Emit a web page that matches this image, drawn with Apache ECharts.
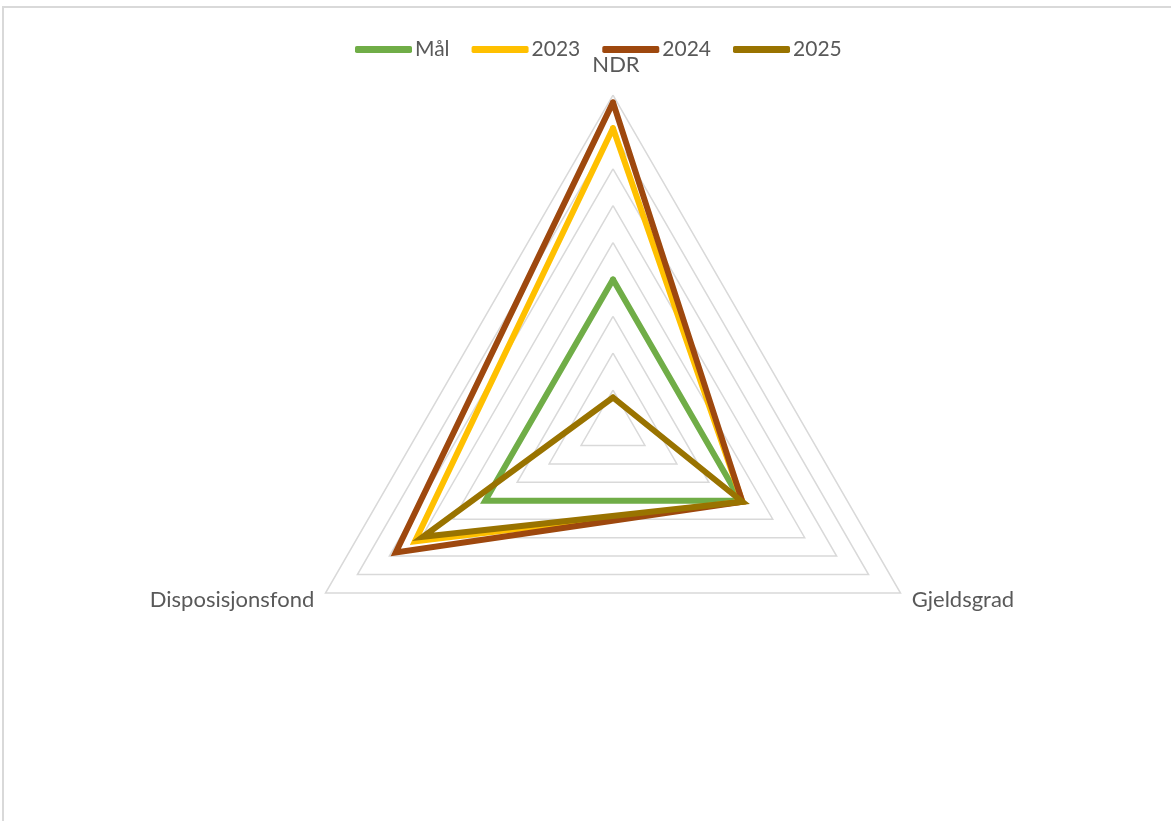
<!DOCTYPE html>
<html>
<head>
<meta charset="utf-8">
<script src="https://cdn.jsdelivr.net/npm/echarts@6/dist/echarts.min.js"></script>
<style>
  html, body { margin: 0; padding: 0; background: #fff; }
  #frame { position: absolute; left: 2px; top: 6px; width: 1169px; height: 815px;
           border-top: 2px solid #d9d9d9; border-left: 2px solid #d9d9d9; box-sizing: border-box; }
  #chart { position: absolute; left: 0; top: 0; width: 1171px; height: 821px; }
</style>
</head>
<body>
<div id="frame"></div>
<div id="chart"></div>
<script>
// Radar axes (ECharts lays them out counter-clockwise from the top)
const indicators = ['NDR', 'Disposisjonsfond', 'Gjeldsgrad'];
const axisMax = 9;

// Series values, one per axis in the order above
const seriesNames = ['Mål', '2023', '2024', '2025'];
const valuesMaal = [4.0, 4.0, 4.0];
const values2023 = [8.1, 6.2, 4.05];
const values2024 = [8.8, 6.8, 4.05];
const values2025 = [0.8, 5.95, 4.05];
const seriesValues = [valuesMaal, values2023, values2024, values2025];
const seriesColors = ['#70AD47', '#FFC000', '#9E480E', '#997300'];

const FONT = 'Lato, "Noto Sans", sans-serif';

const chart = echarts.init(document.getElementById('chart'), null, { renderer: 'canvas' });

chart.setOption({
  animation: false,
  legend: {
    top: 34,
    left: 350,
    icon: 'roundRect',
    itemWidth: 57,
    itemHeight: 7,
    itemGap: 22,
    textStyle: { fontFamily: FONT, fontSize: 21, color: '#595959', padding: [0, 0, 0, -2] },
    data: seriesNames
  },
  radar: {
    center: [613, 427],
    radius: 332,
    startAngle: 90,
    shape: 'polygon',
    splitNumber: 9,
    nameGap: 13,
    indicator: indicators.map(n => ({ name: n, min: 0, max: axisMax })),
    axisName: {
      color: '#595959',
      fontFamily: FONT,
      fontSize: 22,
      formatter: n => (n === 'NDR' ? '{top|' + n + '}' : n),
      rich: { top: { fontFamily: FONT, fontSize: 22, color: '#595959', padding: [0, 0, 6, 6] } }
    },
    splitLine: { lineStyle: { color: '#d9d9d9', width: 1.5 } },
    splitArea: { show: false },
    axisLine: { show: false },
    axisTick: { show: false },
    axisLabel: { show: false }
  },
  series: [{
    type: 'radar',
    symbol: 'none',
    data: seriesNames.map((name, i) => ({
      name: name,
      value: seriesValues[i],
      itemStyle: { color: seriesColors[i] },
      lineStyle: { color: seriesColors[i], width: 6, join: 'miter', cap: 'round' }
    }))
  }]
});
</script>
</body>
</html>
